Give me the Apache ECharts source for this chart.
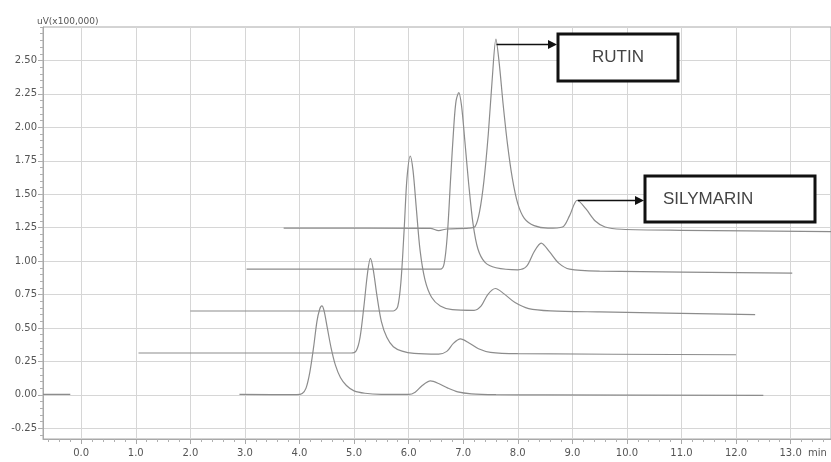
<!DOCTYPE html>
<html>
<head>
<meta charset="utf-8">
<script src="https://cdn.jsdelivr.net/npm/echarts@6/dist/echarts.min.js"></script>
<style>
html,body{margin:0;padding:0;background:#fff;}
#c{width:831px;height:462px;}
</style>
</head>
<body>
<div id="c"></div>
<script>
// ---- Tick labels ----
var X_TICKS = [0,1,2,3,4,5,6,7,8,9,10,11,12,13];
var Y_TICKS = [-0.25,0,0.25,0.5,0.75,1.0,1.25,1.5,1.75,2.0,2.25,2.5];
var X_UNIT = 'min';
var Y_UNIT = 'uV(x100,000)';

// ---- Chromatogram traces (time [min], signal [x100,000 uV]) ----
var trace1 = [[-0.7,0.004],[-0.2,0.004],[-0.15,null],[2.9,0.003],[3.95,0.002],[4.05,0.01],[4.12,0.05],[4.19,0.17],[4.26,0.36],[4.32,0.55],[4.37,0.64],[4.41,0.665],[4.45,0.63],[4.51,0.5],[4.58,0.35],[4.66,0.22],[4.75,0.13],[4.86,0.07],[5.0,0.03],[5.2,0.012],[5.5,0.004],[6.0,0.003],[6.12,0.02],[6.25,0.07],[6.4,0.104],[6.55,0.085],[6.72,0.05],[6.9,0.022],[7.15,0.008],[7.6,0.002],[8.5,0.0],[12.5,-0.004]];
var trace2 = [[1.05,0.313],[4.95,0.313],[5.04,0.33],[5.11,0.43],[5.18,0.66],[5.25,0.92],[5.3,1.02],[5.35,0.94],[5.42,0.74],[5.5,0.55],[5.6,0.43],[5.72,0.36],[5.88,0.327],[6.1,0.31],[6.55,0.305],[6.7,0.325],[6.82,0.385],[6.95,0.418],[7.1,0.39],[7.28,0.345],[7.5,0.318],[8.0,0.308],[12.0,0.3]];
var trace3 = [[2.0,0.627],[5.72,0.627],[5.8,0.66],[5.86,0.85],[5.92,1.25],[5.97,1.62],[6.03,1.785],[6.08,1.68],[6.14,1.4],[6.21,1.08],[6.3,0.86],[6.42,0.73],[6.58,0.665],[6.8,0.637],[7.2,0.632],[7.33,0.665],[7.45,0.75],[7.59,0.795],[7.75,0.755],[7.95,0.69],[8.2,0.645],[8.6,0.628],[9.5,0.62],[12.35,0.6]];
var trace4 = [[3.03,0.94],[6.58,0.94],[6.65,0.98],[6.71,1.2],[6.77,1.62],[6.83,2.02],[6.87,2.2],[6.92,2.26],[6.97,2.16],[7.03,1.9],[7.1,1.58],[7.18,1.28],[7.27,1.09],[7.4,0.99],[7.6,0.95],[8.0,0.935],[8.16,0.96],[8.3,1.07],[8.43,1.134],[8.58,1.07],[8.75,0.985],[8.95,0.94],[9.5,0.925],[13.03,0.91]];
var trace5 = [[3.71,1.246],[6.4,1.245],[6.55,1.228],[6.7,1.24],[7.1,1.246],[7.22,1.26],[7.3,1.37],[7.38,1.6],[7.46,1.95],[7.53,2.35],[7.6,2.66],[7.66,2.48],[7.73,2.18],[7.81,1.88],[7.9,1.62],[8.0,1.43],[8.12,1.32],[8.3,1.265],[8.55,1.246],[8.82,1.255],[8.95,1.34],[9.09,1.455],[9.25,1.39],[9.42,1.3],[9.6,1.255],[9.9,1.238],[11.0,1.23],[13.74,1.22]];

// ---- Annotations (data coordinates) ----
var annotations = [
  {text:'RUTIN', from:[7.61,2.623], box:[[8.73,2.698],[10.92,2.347]], align:'center'},
  {text:'SILYMARIN', from:[9.1,1.46], box:[[10.34,1.637],[13.46,1.293]], align:'left'}
];

var XMIN = -0.7, XMAX = 13.74, YMIN = -0.33, YMAX = 2.75;

var xMinor = [], yMinor = [];
for (var i = -3; i <= 68; i++) { var v = +(i*0.2).toFixed(2); if (v>=XMIN && v<=XMAX && Math.abs(v-Math.round(v))>1e-6) xMinor.push(v); }
for (var j = -6; j <= 55; j++) { var w = +(j*0.05).toFixed(2); if (w>=YMIN && w<=YMAX) yMinor.push(w); }

var chart = echarts.init(document.getElementById('c'), null, {renderer:'canvas'});
var LINE = '#8c8c8c';
var gridRect = {left:43, top:27, right:-2, bottom:23};

function mk(d){ return {type:'line', data:d, showSymbol:false, smooth:0.3, connectNulls:false,
  lineStyle:{color:LINE, width:1.2}, xAxisIndex:0, yAxisIndex:0, silent:true}; }

chart.setOption({
  animation:false,
  grid:[
    Object.assign({show:true, borderColor:'#a8a8a8', borderWidth:1, backgroundColor:'transparent'}, gridRect),
    Object.assign({show:false}, gridRect)
  ],
  xAxis:[
    {type:'value', gridIndex:0, min:XMIN, max:XMAX,
      axisLine:{show:true, onZero:false, lineStyle:{color:'#a8a8a8'}},
      axisTick:{show:true, customValues:X_TICKS, length:5, lineStyle:{color:'#a8a8a8'}},
      axisLabel:{customValues:X_TICKS, formatter:function(v){return v.toFixed(1);}, color:'#555', fontSize:10, margin:9, fontFamily:'DejaVu Sans'},
      splitLine:{show:true, lineStyle:{color:'#d6d6d6', width:1}}},
    {type:'value', gridIndex:1, min:XMIN, max:XMAX,
      axisLine:{show:false, onZero:false},
      axisTick:{show:true, customValues:xMinor, length:3, lineStyle:{color:'#b0b0b0'}},
      axisLabel:{show:false}, splitLine:{show:false}}
  ],
  yAxis:[
    {type:'value', gridIndex:0, min:YMIN, max:YMAX,
      axisLine:{show:true, onZero:false, lineStyle:{color:'#a8a8a8'}},
      axisTick:{show:true, customValues:Y_TICKS, length:5, lineStyle:{color:'#a8a8a8'}},
      axisLabel:{customValues:Y_TICKS, formatter:function(v){return v.toFixed(2);}, color:'#555', fontSize:10, margin:6, fontFamily:'DejaVu Sans'},
      splitLine:{show:true, lineStyle:{color:'#d6d6d6', width:1}}},
    {type:'value', gridIndex:1, min:YMIN, max:YMAX,
      axisLine:{show:false, onZero:false},
      axisTick:{show:true, customValues:yMinor, length:3, lineStyle:{color:'#b0b0b0'}},
      axisLabel:{show:false}, splitLine:{show:false}}
  ],
  series:[mk(trace1), mk(trace2), mk(trace3), mk(trace4), mk(trace5)]
});

// Annotation graphics positioned from data coordinates
var g = [];
function px(p){ return chart.convertToPixel({xAxisIndex:0, yAxisIndex:0}, p); }
annotations.forEach(function(a){
  var s = px(a.from), b0 = px(a.box[0]), b1 = px(a.box[1]);
  var bx = Math.round(b0[0]), by = Math.round(b0[1]), bw = Math.round(b1[0]-b0[0]), bh = Math.round(b1[1]-b0[1]);
  var y = Math.round(s[1]) + 0.5;
  g.push({type:'line', shape:{x1:s[0], y1:y, x2:bx-8, y2:y}, style:{stroke:'#111', lineWidth:1.6}, z:10});
  g.push({type:'polygon', shape:{points:[[bx-10,y-4.5],[bx-1,y],[bx-10,y+4.5]]}, style:{fill:'#111'}, z:10});
  g.push({type:'rect', shape:{x:bx, y:by, width:bw, height:bh}, style:{fill:'#fff', stroke:'#111', lineWidth:3}, z:10});
  g.push({type:'text', x: a.align==='center' ? bx+bw/2 : bx+18, y: by+bh/2,
    style:{text:a.text, fill:'#444', font:'17px "Liberation Sans", Arial, sans-serif', align:a.align, verticalAlign:'middle'}, z:11});
});
var yl = px([XMIN, YMAX]);
g.push({type:'text', x:37, y:yl[1]-1, style:{text:Y_UNIT, fill:'#555', font:'9px "DejaVu Sans", sans-serif', align:'left', verticalAlign:'bottom'}, z:11});
var xl = px([XMAX, YMIN]);
g.push({type:'text', x:808, y:xl[1]+9, style:{text:X_UNIT, fill:'#555', font:'10px "DejaVu Sans", sans-serif', align:'left', verticalAlign:'top'}, z:11});
chart.setOption({graphic:g});
</script>
</body>
</html>
